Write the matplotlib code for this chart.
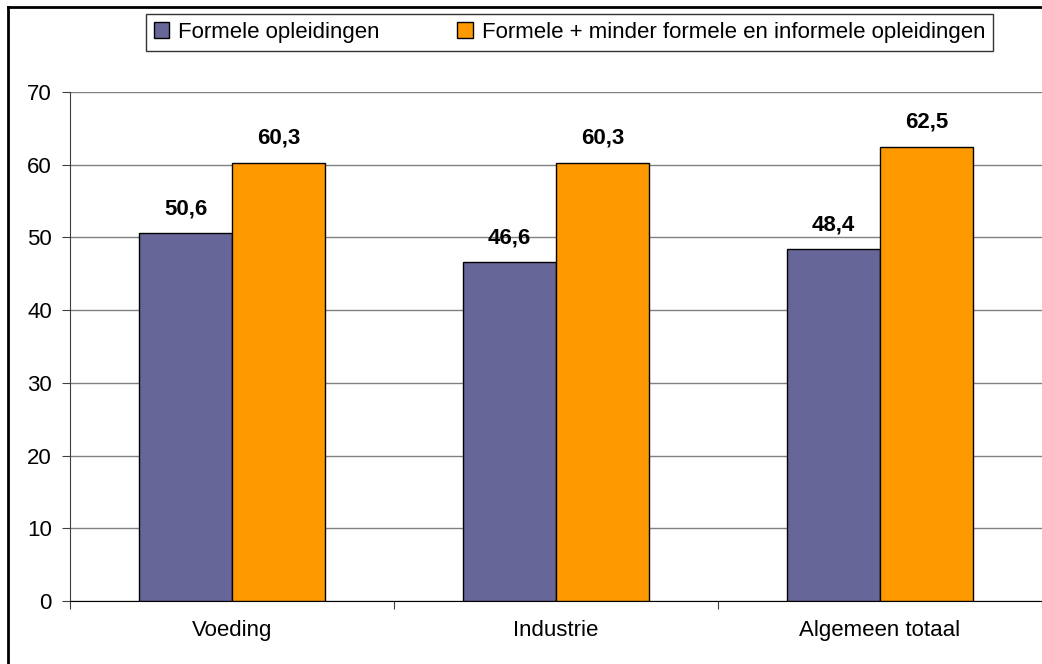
import matplotlib
matplotlib.use("Agg")
import matplotlib.pyplot as plt
from matplotlib.lines import Line2D
import numpy as np

categories = ["Voeding", "Industrie", "Algemeen totaal"]
series_names = ["Formele opleidingen", "Formele + minder formele en informele opleidingen"]
formele = [50.6, 46.6, 48.4]
formele_plus = [60.3, 60.3, 62.5]
yticks = [0, 10, 20, 30, 40, 50, 60, 70]

plt.rcParams['font.family'] = ['Liberation Sans', 'DejaVu Sans']

W, H = 1042, 664
FS = 16
fig = plt.figure(figsize=(W / 100, H / 100), dpi=100)
ax = fig.add_axes([70 / W, (H - 601) / H, (W - 70) / W, (601 - 92) / H])

x = np.arange(len(categories))
bw = 1 / 3.5
colors = ["#666699", "#FF9900"]
b1 = ax.bar(x - bw / 2, formele, bw, color=colors[0], edgecolor="black", linewidth=1, zorder=3,
            label=series_names[0])
b2 = ax.bar(x + bw / 2, formele_plus, bw, color=colors[1], edgecolor="black", linewidth=1, zorder=3,
            label=series_names[1])

for bars, vals in ((b1, formele), (b2, formele_plus)):
    for rect, v in zip(bars, vals):
        ax.annotate(f"{v:.1f}".replace(".", ","),
                    (rect.get_x() + rect.get_width() / 2, rect.get_height()),
                    xytext=(0, 10), textcoords="offset points",
                    ha="center", va="bottom", fontsize=FS, fontweight="bold")

ax.set_xlim(-0.5, len(categories) - 0.5)
ax.set_ylim(0, 70)
ax.set_yticks(yticks)
ax.set_yticklabels([str(t) for t in yticks])
ax.yaxis.grid(True, color="#808080", linewidth=1, zorder=0)
ax.set_axisbelow(True)

ax.set_xticks(np.arange(len(categories) + 1) - 0.5)
ax.set_xticklabels([])
ax.set_xticks(x, minor=True)
ax.set_xticklabels(categories, minor=True)
ax.tick_params(axis="x", which="major", direction="out", length=6, color="#404040")
ax.tick_params(axis="x", which="minor", length=0, pad=14, labelsize=FS)
ax.tick_params(axis="y", direction="out", length=6, pad=7, labelsize=FS, color="#404040")

for s in ("top", "right"):
    ax.spines[s].set_visible(False)
ax.spines["left"].set_color("#404040")
ax.spines["bottom"].set_color("black")

leg = fig.legend(handles=[b1, b2], loc="center",
                 bbox_to_anchor=((146 + 993) / 2 / W, 1 - 32.5 / H),
                 ncol=2, frameon=True, fancybox=False, fontsize=FS,
                 handlelength=0.7, handleheight=0.7, handletextpad=0.4,
                 columnspacing=3.5, borderpad=0.35, borderaxespad=0)
leg.get_frame().set_edgecolor("black")
leg.get_frame().set_linewidth(1)

# outer frame
fig.add_artist(Line2D([8 / W, 8 / W], [0, 1 - 7 / H], transform=fig.transFigure, color="black", linewidth=2))
fig.add_artist(Line2D([8 / W, 1], [1 - 7 / H, 1 - 7 / H], transform=fig.transFigure, color="black", linewidth=2))

fig.savefig("out.png", dpi=100)
